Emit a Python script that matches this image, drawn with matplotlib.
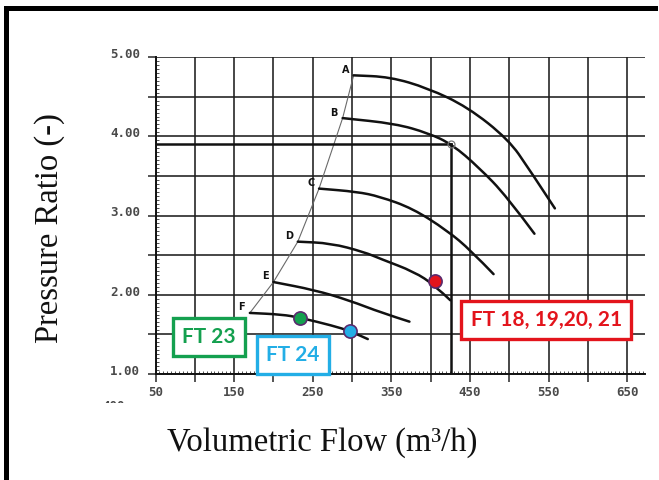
import matplotlib
matplotlib.use("Agg")
import matplotlib.pyplot as plt
import matplotlib.transforms as mtransforms
from matplotlib.ticker import MultipleLocator, FuncFormatter
from matplotlib.patches import Rectangle, PathPatch
from matplotlib.path import Path

# Compressor speed lines (volumetric flow in m3/h, pressure ratio)
speed_labels = ["A", "B", "C", "D", "E", "F"]
flow_A = [302, 348, 396, 447, 499, 525, 558]
pr_A = [4.77, 4.75, 4.61, 4.37, 3.96, 3.59, 3.09]
flow_B = [288, 355, 397, 427, 461, 497, 532]
pr_B = [4.23, 4.16, 4.04, 3.90, 3.61, 3.24, 2.77]
flow_C = [258, 306, 335, 377, 421, 451, 480]
pr_C = [3.34, 3.30, 3.24, 3.09, 2.81, 2.56, 2.26]
flow_D = [231, 273, 315, 337, 379, 405, 425]
pr_D = [2.67, 2.65, 2.54, 2.45, 2.29, 2.12, 1.93]
flow_E = [200, 252, 296, 338, 373]
pr_E = [2.16, 2.06, 1.93, 1.77, 1.66]
flow_F = [170, 211, 234, 275, 298, 320]
pr_F = [1.77, 1.75, 1.71, 1.61, 1.54, 1.44]

# Design point
design_flow = 426
design_pr = 3.90

# Measured test points
test_names = ["FT 23", "FT 24", "FT 18, 19,20, 21"]
test_flow = [234, 298, 406]
test_pr = [1.71, 1.54, 2.17]
test_colors = ["#14a04f", "#23aee6", "#e3141c"]
label_flow = [118, 225, 547]
label_pr = [1.467, 1.24, 1.68]

x_ticks_labeled = [50, 150, 250, 350, 450, 550, 650]
y_ticks_labeled = [1.0, 2.0, 3.0, 4.0, 5.0]


def smooth_path(xs, ys):
    """Quadratic-Bezier path that runs through the ends and bends at the inner points."""
    pts = list(zip(xs, ys))
    verts = [pts[0]]
    codes = [Path.MOVETO]
    if len(pts) > 2:
        mid = ((pts[0][0] + pts[1][0]) / 2, (pts[0][1] + pts[1][1]) / 2)
        verts.append(mid)
        codes.append(Path.LINETO)
        for i in range(1, len(pts) - 1):
            nxt = pts[i + 1] if i == len(pts) - 2 else (
                (pts[i][0] + pts[i + 1][0]) / 2, (pts[i][1] + pts[i + 1][1]) / 2)
            verts += [pts[i], nxt]
            codes += [Path.CURVE3, Path.CURVE3]
    else:
        verts.append(pts[-1])
        codes.append(Path.LINETO)
    return Path(verts, codes)


fig = plt.figure(figsize=(6.59, 4.8), dpi=100)
fig.patch.set_facecolor("white")
ax = fig.add_axes([0.236, 0.221, 0.742, 0.66])
ax.set_xlim(50, 672)
ax.set_ylim(1, 5)

for s in ("top", "right"):
    ax.spines[s].set_visible(False)
for s in ("left", "bottom"):
    ax.spines[s].set_color("#111111")
    ax.spines[s].set_linewidth(1.4)

ax.xaxis.set_major_locator(MultipleLocator(50))
ax.yaxis.set_major_locator(MultipleLocator(0.5))
ax.xaxis.set_minor_locator(MultipleLocator(5))
ax.yaxis.set_minor_locator(MultipleLocator(0.05))
ax.xaxis.set_major_formatter(
    FuncFormatter(lambda v, p: f"{int(round(v))}" if int(round(v)) in x_ticks_labeled else ""))
ax.yaxis.set_major_formatter(
    FuncFormatter(lambda v, p: f"{v:.2f}" if round(v, 2) in y_ticks_labeled else ""))

ax.grid(which="major", color="#1e1e1e", lw=1.15)
ax.tick_params(which="major", length=6, width=1.1, color="#262626", direction="out",
               labelsize=9, labelcolor="#4a4a4a")
ax.tick_params(axis="y", which="major", pad=5)
ax.tick_params(axis="x", which="major", pad=3)
ax.tick_params(which="minor", length=2.5, width=0.6, color="#333333", direction="in")
for lab in ax.get_xticklabels() + ax.get_yticklabels():
    lab.set_fontfamily("DejaVu Sans Mono")
    lab.set_fontweight("bold")
dy = mtransforms.ScaledTranslation(0, 3 / 72, fig.dpi_scale_trans)
for lab in ax.get_yticklabels():
    lab.set_transform(lab.get_transform() + dy)

# Speed lines
flows = [flow_A, flow_B, flow_C, flow_D, flow_E, flow_F]
prs = [pr_A, pr_B, pr_C, pr_D, pr_E, pr_F]
for name, fx, py in zip(speed_labels, flows, prs):
    ax.add_patch(PathPatch(smooth_path(fx, py), fill=False, ec="#111111", lw=1.8,
                           capstyle="round", zorder=3))
    ax.annotate(name, (fx[0], py[0]), xytext=(-6, 4), textcoords="offset points",
                ha="center", va="center", fontsize=7, fontweight="bold",
                color="#111111", zorder=4)

# Surge line through the first point of every speed line
ax.plot([f[0] for f in flows], [p[0] for p in prs], color="#6a6a6a", lw=0.8, zorder=2)

# Design point cross-hairs
ax.plot([50, design_flow], [design_pr, design_pr], color="#111111", lw=1.8, zorder=3)
ax.plot([design_flow, design_flow], [1, design_pr], color="#111111", lw=1.8, zorder=3)
ax.plot([design_flow], [design_pr], "o", ms=5, mfc="none", mec="#777777", mew=0.9, zorder=4)

# Test points and their labels
for name, fx, py, c, lx, ly in zip(test_names, test_flow, test_pr, test_colors,
                                    label_flow, label_pr):
    ax.plot([fx], [py], "o", ms=9.5, mfc=c, mec="#5a2a6e", mew=1.2, zorder=6)
    ax.text(lx, ly, name, ha="center", va="center", fontsize=15, fontweight="bold",
            family="Lato", color=c, zorder=7, clip_on=False,
            bbox=dict(boxstyle="square,pad=0.45", fc="white", ec=c, lw=2.4))

# Axis titles
fig.text(50 / 659, 1 - 228 / 480, "Pressure Ratio (-)", rotation=90, ha="center",
         va="center", fontsize=23.5, family="Liberation Serif", color="#111111")
fig.text(322 / 659, 1 - 443 / 480, "Volumetric Flow (m\u00b3/h)", ha="center",
         va="center", fontsize=23.5, family="Liberation Serif", color="#111111")

# Partially visible line of text below the axis
t = fig.text(114 / 659, 1 - 406 / 480, "400", ha="center", va="center", fontsize=9,
             family="DejaVu Sans Mono", fontweight="bold", color="#4a4a4a")
clip = Rectangle((0, 1 - 403 / 480), 1, 8 / 480, transform=fig.transFigure,
                 fill=False, lw=0, visible=False)
fig.add_artist(clip)
t.set_clip_path(clip)

# Outer frame edges
fig.add_artist(Rectangle((4 / 659, 0), 4.5 / 659, 1 - 6 / 480, transform=fig.transFigure,
                         fc="black", ec="none"))
fig.add_artist(Rectangle((4 / 659, 1 - 10.5 / 480), 654 / 659, 4.5 / 480,
                         transform=fig.transFigure, fc="black", ec="none"))

fig.savefig("out.png", dpi=100, facecolor="white")
